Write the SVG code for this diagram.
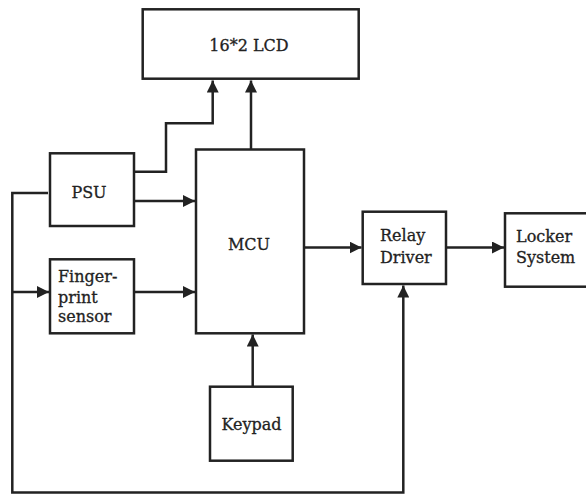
<svg xmlns="http://www.w3.org/2000/svg" width="586" height="494" viewBox="0 0 586 494">
<style>
.box{fill:#fff;stroke:#222;stroke-width:2.5}
.lbl{font-family:"DejaVu Serif","Liberation Serif",serif;font-size:16px;fill:#222;stroke:#222;stroke-width:0.3}
.c{text-anchor:middle}
.w{fill:none;stroke:#222;stroke-width:2.5}
</style>
<defs>
<marker id="ah" markerUnits="userSpaceOnUse" markerWidth="13" markerHeight="12" refX="12" refY="6" orient="auto">
<path d="M0,0 L12,6 L0,12 Z" fill="#222"/>
</marker>
</defs>
<rect width="586" height="494" fill="#fff"/>
<g id="connectors">
<path class="w" d="M134,171.7 H166 V123.3 H212.7 V80.5" marker-end="url(#ah)"/>
<path class="w" d="M251,149.5 V80.5" marker-end="url(#ah)"/>
<path class="w" d="M134,201 H195" marker-end="url(#ah)"/>
<path class="w" d="M134,292 H195" marker-end="url(#ah)"/>
<path class="w" d="M304,247.5 H361.5" marker-end="url(#ah)"/>
<path class="w" d="M446,247.5 H504" marker-end="url(#ah)"/>
<path class="w" d="M252.7,386.7 V334.5" marker-end="url(#ah)"/>
<path class="w" d="M48,193 H12.3 V492.5 H403.3 V285.5" marker-end="url(#ah)"/>
<path class="w" d="M12.3,292 H49" marker-end="url(#ah)"/>
</g>
<g id="lcd">
<rect class="box" x="142.7" y="9.3" width="216" height="69.4"/>
<text class="lbl c" x="249" y="51">16*2 LCD</text>
</g>
<g id="psu">
<rect class="box" x="50" y="153.3" width="84" height="72.7"/>
<text class="lbl c" x="89" y="198">PSU</text>
</g>
<g id="mcu">
<rect class="box" x="196" y="149.5" width="108" height="183.8"/>
<text class="lbl c" x="249" y="250">MCU</text>
</g>
<g id="fingerprint">
<rect class="box" x="50" y="259.3" width="84" height="74"/>
<text class="lbl" x="58" y="282.3">Finger-</text>
<text class="lbl" x="58" y="302.7">print</text>
<text class="lbl" x="58" y="322.3">sensor</text>
</g>
<g id="relay">
<rect class="box" x="362.7" y="211.7" width="83.3" height="72.3"/>
<text class="lbl" x="380" y="240.7">Relay</text>
<text class="lbl" x="380" y="262.7">Driver</text>
</g>
<g id="locker">
<rect class="box" x="505" y="213.3" width="90" height="73.4"/>
<text class="lbl" x="516" y="241.7">Locker</text>
<text class="lbl" x="516" y="262.7">System</text>
</g>
<g id="keypad">
<rect class="box" x="210" y="386.7" width="82.7" height="74"/>
<text class="lbl c" x="251.5" y="429.5">Keypad</text>
</g>
</svg>
